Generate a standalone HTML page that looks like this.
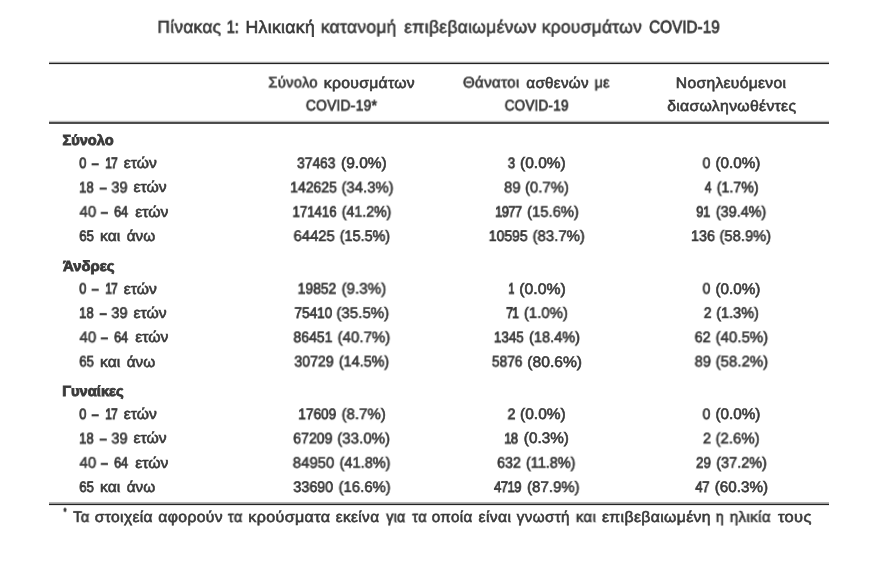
<!DOCTYPE html>
<html lang="el">
<head>
<meta charset="utf-8">
<title>Πίνακας 1: Ηλικιακή κατανομή επιβεβαιωμένων κρουσμάτων COVID-19</title>
<style>
html,body{margin:0;padding:0;background:#fff;}
body{width:880px;height:565px;position:relative;overflow:hidden;
  font-family:"Liberation Sans",sans-serif;font-size:15.2px;line-height:20px;color:#3a3a3a;
  text-rendering:geometricPrecision;}
.t{display:inline-block;white-space:pre;transform-origin:0 0;-webkit-text-stroke:0.62px #3a3a3a;will-change:transform;}
figure{margin:0;position:absolute;left:50px;top:0;width:779px;}
figcaption{height:62px;padding:12px 0 0 10px;box-sizing:border-box;text-align:center;font-size:17.5px;line-height:30px;white-space:nowrap;letter-spacing:.3px;}
table{border-collapse:collapse;border-spacing:0;width:779px;table-layout:fixed;}
th,td{padding:0;font-weight:400;text-align:center;vertical-align:top;white-space:nowrap;}
col.c0{width:194px} col.c1,col.c2,col.c3{width:195px}
thead th{height:69px;padding-top:9px;box-sizing:border-box;line-height:24px;letter-spacing:.3px;}
tbody th{text-align:left;padding-left:29px;}
tbody tr.sec th{font-weight:700;padding-left:12px;font-size:14.5px;}
tbody tr.sec .t{-webkit-text-stroke-width:0.85px;}
.rule{position:absolute;left:-1px;width:780px;height:1px;background:#222;}
.note{margin:0;padding:6px 0 0 13px;white-space:nowrap;letter-spacing:.35px;word-spacing:1.9px;}
.note sup{font-size:9.5px;line-height:0;vertical-align:10px;}
</style>
</head>
<body>
<figure>
<figcaption><span class="t" id="tt0" style="transform:translate(-1.64px,-0.20px) scaleX(0.9897)">Πίνακας</span> <span class="t" id="tt1" style="-webkit-text-stroke-width:0.83px;letter-spacing:-0.13px;transform:translate(-2.34px,-0.20px) scaleX(0.8497)">1:</span> <span class="t" id="tt2" style="transform:translate(-3.46px,-0.20px) scaleX(1.0090)">Ηλικιακή</span> <span class="t" id="tt3" style="transform:translate(-2.20px,-0.20px) scaleX(0.9960)">κατανομή</span> <span class="t" id="tt4" style="transform:translate(0.25px,-0.20px) scaleX(0.9989)">επιβεβαιωμένων</span> <span class="t" id="tt5" style="transform:translate(-0.30px,-0.20px) scaleX(0.9940)">κρουσμάτων</span> <span class="t" id="tt6" style="-webkit-text-stroke-width:0.83px;letter-spacing:0.07px;transform:translate(1.10px,-0.20px) scaleX(0.8685)">COVID-19</span></figcaption>
<div class="rule" style="top:61px;opacity:.1"></div>
<div class="rule" style="top:62px;opacity:.42"></div>
<div class="rule" style="top:63px;opacity:1"></div>
<div class="rule" style="top:64px;opacity:.1"></div>
<div class="rule" style="top:120px;opacity:.07"></div>
<div class="rule" style="top:121px;opacity:.3"></div>
<div class="rule" style="top:122px;opacity:.82"></div>
<div class="rule" style="top:123px;opacity:.8"></div>
<div class="rule" style="top:502px;opacity:.32"></div>
<div class="rule" style="top:503px;opacity:.45"></div>
<div class="rule" style="top:504px;opacity:1"></div>
<div class="rule" style="top:505px;opacity:.1"></div>
<table>
<colgroup><col class="c0"><col class="c1"><col class="c2"><col class="c3"></colgroup>
<thead>
<tr><th></th>
<th scope="col"><div><span class="t" id="h1a0" style="transform:translate(-1.67px,0.50px) scaleX(0.9700)">Σύνολο</span> <span class="t" id="h1a1" style="transform:translate(-1.27px,0.50px) scaleX(1.0363)">κρουσμάτων</span></div><div><span class="t" id="h1b0" style="-webkit-text-stroke-width:0.77px;transform:translate(3.83px,-0.50px) scaleX(0.9064)">COVID-19*</span></div></th>
<th scope="col"><div><span class="t" id="h2a0" style="transform:translate(-1.10px,0.50px) scaleX(0.9982)">Θάνατοι</span> <span class="t" id="h2a1" style="transform:translate(0.35px,0.50px) scaleX(1.0008)">ασθενών</span> <span class="t" id="h2a2" style="-webkit-text-stroke-width:0.67px;transform:translate(1.51px,0.50px) scaleX(0.9503)">με</span></div><div><span class="t" id="h2b0" style="-webkit-text-stroke-width:0.80px;transform:translate(4.68px,-0.50px) scaleX(0.8835)">COVID-19</span></div></th>
<th scope="col"><div><span class="t" id="h3a0" style="transform:translate(-2.13px,0.50px) scaleX(1.0292)">Νοσηλευόμενοι</span></div><div><span class="t" id="h3b0" style="transform:translate(-1.85px,-0.50px) scaleX(1.0384)">διασωληνωθέντες</span></div></th>
</tr>
</thead>
<tbody>
<tr class="sec" style="height:23px"><th scope="rowgroup" colspan="4"><span class="t" id="s00" style="transform:translate(0.45px,0.00px) scaleX(1.0069)">Σύνολο</span></th></tr>
<tr style="height:24px"><th scope="row"><span class="t" id="l000" style="-webkit-text-stroke-width:0.89px;transform:translate(0.29px,0.10px) scaleX(0.8391)">0</span> <span class="t" id="l001" style="-webkit-text-stroke-width:0.98px;transform:translate(-0.04px,0.10px) scaleX(0.7510)">–</span> <span class="t" id="l002" style="-webkit-text-stroke-width:0.92px;letter-spacing:-1.30px;transform:translate(1.22px,0.10px) scaleX(0.7966)">17</span> <span class="t" id="l003" style="transform:translate(0.83px,0.10px) scaleX(1.0317)">ετών</span></th><td><span class="t" id="c0000" style="-webkit-text-stroke-width:0.76px;transform:translate(1.08px,0.10px) scaleX(0.9078)">37463</span> <span class="t" id="c0001" style="transform:translate(-0.96px,0.10px) scaleX(1.0220)">(9.0%)</span></td><td><span class="t" id="c0010" style="-webkit-text-stroke-width:0.82px;transform:translate(-0.18px,0.10px) scaleX(0.8592)">3</span> <span class="t" id="c0011" style="transform:translate(0.04px,0.10px) scaleX(1.0209)">(0.0%)</span></td><td><span class="t" id="c0020" style="-webkit-text-stroke-width:0.69px;transform:translate(-0.47px,0.10px) scaleX(0.9317)">0</span> <span class="t" id="c0021" style="transform:translate(0.45px,0.10px) scaleX(1.0058)">(0.0%)</span></td></tr>
<tr style="height:25px"><th scope="row"><span class="t" id="l010" style="-webkit-text-stroke-width:0.80px;transform:translate(0.05px,0.40px) scaleX(0.8638)">18</span> <span class="t" id="l011" style="-webkit-text-stroke-width:0.98px;transform:translate(-0.01px,0.40px) scaleX(0.7510)">–</span> <span class="t" id="l012" style="-webkit-text-stroke-width:0.67px;transform:translate(-1.63px,0.40px) scaleX(0.9541)">39</span> <span class="t" id="l013" style="transform:translate(-0.56px,0.40px) scaleX(1.0350)">ετών</span></th><td><span class="t" id="c0100" style="-webkit-text-stroke-width:0.74px;transform:translate(3.17px,0.40px) scaleX(0.9212)">142625</span> <span class="t" id="c0101" style="transform:translate(-0.54px,0.40px) scaleX(0.9817)">(34.3%)</span></td><td><span class="t" id="c0110" style="transform:translate(-0.03px,0.40px) scaleX(0.9784)">89</span> <span class="t" id="c0111" style="transform:translate(-0.03px,0.40px) scaleX(0.9804)">(0.7%)</span></td><td><span class="t" id="c0120" style="-webkit-text-stroke-width:0.86px;transform:translate(1.63px,0.40px) scaleX(0.8203)">4</span> <span class="t" id="c0121" style="-webkit-text-stroke-width:0.73px;transform:translate(1.72px,0.40px) scaleX(0.9342)">(1.7%)</span></td></tr>
<tr style="height:24px"><th scope="row"><span class="t" id="l020" style="transform:translate(0.50px,-0.30px) scaleX(0.9880)">40</span> <span class="t" id="l021" style="-webkit-text-stroke-width:0.98px;transform:translate(1.20px,-0.30px) scaleX(0.7510)">–</span> <span class="t" id="l022" style="-webkit-text-stroke-width:0.83px;letter-spacing:-0.33px;transform:translate(1.00px,-0.30px) scaleX(0.8515)">64</span> <span class="t" id="l023" style="transform:translate(2.14px,-0.30px) scaleX(1.0350)">ετών</span></th><td><span class="t" id="c0200" style="-webkit-text-stroke-width:0.82px;transform:translate(5.49px,-0.30px) scaleX(0.8708)">171416</span> <span class="t" id="c0201" style="-webkit-text-stroke-width:0.72px;transform:translate(-0.28px,-0.30px) scaleX(0.9343)">(41.2%)</span></td><td><span class="t" id="c0210" style="-webkit-text-stroke-width:0.83px;letter-spacing:-0.80px;transform:translate(3.06px,-0.30px) scaleX(0.8589)">1977</span> <span class="t" id="c0211" style="transform:translate(0.07px,-0.30px) scaleX(0.9759)">(15.6%)</span></td><td><span class="t" id="c0220" style="-webkit-text-stroke-width:0.83px;letter-spacing:-0.48px;transform:translate(1.18px,-0.30px) scaleX(0.8543)">91</span> <span class="t" id="c0221" style="-webkit-text-stroke-width:0.70px;transform:translate(0.82px,-0.30px) scaleX(0.9498)">(39.4%)</span></td></tr>
<tr style="height:29px"><th scope="row"><span class="t" id="l030" style="-webkit-text-stroke-width:0.82px;transform:translate(0.26px,0.00px) scaleX(0.8658)">65</span> <span class="t" id="l031" style="transform:translate(0.03px,0.00px) scaleX(1.0265)">και</span> <span class="t" id="l032" style="transform:translate(2.64px,0.00px) scaleX(1.0091)">άνω</span></th><td><span class="t" id="c0300" style="transform:translate(1.52px,0.00px) scaleX(0.9771)">64425</span> <span class="t" id="c0301" style="-webkit-text-stroke-width:0.69px;transform:translate(1.73px,0.00px) scaleX(0.9488)">(15.5%)</span></td><td><span class="t" id="c0310" style="-webkit-text-stroke-width:0.74px;transform:translate(1.73px,0.00px) scaleX(0.9213)">10595</span> <span class="t" id="c0311" style="transform:translate(-0.44px,0.00px) scaleX(0.9846)">(83.7%)</span></td><td><span class="t" id="c0320" style="-webkit-text-stroke-width:0.71px;transform:translate(0.99px,0.00px) scaleX(0.9423)">136</span> <span class="t" id="c0321" style="transform:translate(-0.52px,0.00px) scaleX(0.9720)">(58.9%)</span></td></tr>
</tbody>
<tbody>
<tr class="sec" style="height:24px"><th scope="rowgroup" colspan="4"><span class="t" id="s10" style="transform:translate(0.96px,0.50px) scaleX(1.0269)">Άνδρες</span></th></tr>
<tr style="height:24px"><th scope="row"><span class="t" id="l100" style="-webkit-text-stroke-width:0.89px;transform:translate(0.29px,-0.40px) scaleX(0.8391)">0</span> <span class="t" id="l101" style="-webkit-text-stroke-width:0.98px;transform:translate(-0.04px,-0.40px) scaleX(0.7510)">–</span> <span class="t" id="l102" style="-webkit-text-stroke-width:0.92px;letter-spacing:-1.30px;transform:translate(1.22px,-0.40px) scaleX(0.7966)">17</span> <span class="t" id="l103" style="transform:translate(0.83px,-0.40px) scaleX(1.0317)">ετών</span></th><td><span class="t" id="c1000" style="-webkit-text-stroke-width:0.75px;transform:translate(1.62px,-0.40px) scaleX(0.9147)">19852</span> <span class="t" id="c1001" style="transform:translate(-0.45px,-0.40px) scaleX(0.9966)">(9.3%)</span></td><td><span class="t" id="c1010" style="-webkit-text-stroke-width:0.98px;transform:translate(0.53px,-0.40px) scaleX(0.7015)">1</span> <span class="t" id="c1011" style="transform:translate(-0.81px,-0.40px) scaleX(1.0405)">(0.0%)</span></td><td><span class="t" id="c1020" style="-webkit-text-stroke-width:0.69px;transform:translate(-0.47px,-0.40px) scaleX(0.9317)">0</span> <span class="t" id="c1021" style="transform:translate(0.45px,-0.40px) scaleX(1.0058)">(0.0%)</span></td></tr>
<tr style="height:24px"><th scope="row"><span class="t" id="l110" style="-webkit-text-stroke-width:0.80px;transform:translate(0.05px,-0.10px) scaleX(0.8638)">18</span> <span class="t" id="l111" style="-webkit-text-stroke-width:0.98px;transform:translate(-0.01px,-0.10px) scaleX(0.7510)">–</span> <span class="t" id="l112" style="-webkit-text-stroke-width:0.67px;transform:translate(-1.63px,-0.10px) scaleX(0.9541)">39</span> <span class="t" id="l113" style="transform:translate(-0.56px,-0.10px) scaleX(1.0350)">ετών</span></th><td><span class="t" id="c1100" style="-webkit-text-stroke-width:0.79px;transform:translate(2.39px,-0.10px) scaleX(0.8964)">75410</span> <span class="t" id="c1101" style="transform:translate(-1.65px,-0.10px) scaleX(0.9952)">(35.5%)</span></td><td><span class="t" id="c1110" style="-webkit-text-stroke-width:0.90px;letter-spacing:-1.30px;transform:translate(1.17px,-0.10px) scaleX(0.8131)">71</span> <span class="t" id="c1111" style="transform:translate(0.87px,-0.10px) scaleX(0.9827)">(1.0%)</span></td><td><span class="t" id="c1120" style="-webkit-text-stroke-width:0.72px;transform:translate(0.76px,-0.10px) scaleX(0.9207)">2</span> <span class="t" id="c1121" style="-webkit-text-stroke-width:0.70px;transform:translate(1.21px,-0.10px) scaleX(0.9515)">(1.3%)</span></td></tr>
<tr style="height:24px"><th scope="row"><span class="t" id="l120" style="transform:translate(0.50px,0.20px) scaleX(0.9880)">40</span> <span class="t" id="l121" style="-webkit-text-stroke-width:0.98px;transform:translate(1.20px,0.20px) scaleX(0.7510)">–</span> <span class="t" id="l122" style="-webkit-text-stroke-width:0.83px;letter-spacing:-0.33px;transform:translate(1.00px,0.20px) scaleX(0.8515)">64</span> <span class="t" id="l123" style="transform:translate(2.14px,0.20px) scaleX(1.0350)">ετών</span></th><td><span class="t" id="c1200" style="-webkit-text-stroke-width:0.73px;transform:translate(1.41px,0.20px) scaleX(0.9249)">86451</span> <span class="t" id="c1201" style="transform:translate(-0.45px,0.20px) scaleX(0.9933)">(40.7%)</span></td><td><span class="t" id="c1210" style="-webkit-text-stroke-width:0.79px;transform:translate(2.85px,0.20px) scaleX(0.8856)">1345</span> <span class="t" id="c1211" style="-webkit-text-stroke-width:0.68px;transform:translate(0.03px,0.20px) scaleX(0.9595)">(18.4%)</span></td><td><span class="t" id="c1220" style="-webkit-text-stroke-width:0.70px;transform:translate(0.61px,0.20px) scaleX(0.9439)">62</span> <span class="t" id="c1221" style="transform:translate(0.55px,0.20px) scaleX(0.9913)">(40.5%)</span></td></tr>
<tr style="height:30px"><th scope="row"><span class="t" id="l130" style="-webkit-text-stroke-width:0.82px;transform:translate(0.26px,0.50px) scaleX(0.8658)">65</span> <span class="t" id="l131" style="transform:translate(0.03px,0.50px) scaleX(1.0265)">και</span> <span class="t" id="l132" style="transform:translate(2.64px,0.50px) scaleX(1.0091)">άνω</span></th><td><span class="t" id="c1300" style="-webkit-text-stroke-width:0.73px;transform:translate(2.29px,0.50px) scaleX(0.9325)">30729</span> <span class="t" id="c1301" style="-webkit-text-stroke-width:0.70px;transform:translate(0.83px,0.50px) scaleX(0.9479)">(14.5%)</span></td><td><span class="t" id="c1310" style="-webkit-text-stroke-width:0.75px;transform:translate(0.88px,0.50px) scaleX(0.9054)">5876</span> <span class="t" id="c1311" style="transform:translate(-1.67px,0.50px) scaleX(1.0281)">(80.6%)</span></td><td><span class="t" id="c1320" style="transform:translate(0.60px,0.50px) scaleX(0.9692)">89</span> <span class="t" id="c1321" style="transform:translate(0.55px,0.50px) scaleX(0.9913)">(58.2%)</span></td></tr>
</tbody>
<tbody>
<tr class="sec" style="height:23px"><th scope="rowgroup" colspan="4"><span class="t" id="s20" style="transform:translate(0.19px,0.00px) scaleX(1.0142)">Γυναίκες</span></th></tr>
<tr style="height:24px"><th scope="row"><span class="t" id="l200" style="-webkit-text-stroke-width:0.89px;transform:translate(0.29px,0.10px) scaleX(0.8391)">0</span> <span class="t" id="l201" style="-webkit-text-stroke-width:0.98px;transform:translate(-0.04px,0.10px) scaleX(0.7510)">–</span> <span class="t" id="l202" style="-webkit-text-stroke-width:0.92px;letter-spacing:-1.30px;transform:translate(1.22px,0.10px) scaleX(0.7966)">17</span> <span class="t" id="l203" style="transform:translate(0.83px,0.10px) scaleX(1.0317)">ετών</span></th><td><span class="t" id="c2000" style="-webkit-text-stroke-width:0.77px;transform:translate(2.24px,0.10px) scaleX(0.9000)">17609</span> <span class="t" id="c2001" style="transform:translate(-0.45px,0.10px) scaleX(0.9873)">(8.7%)</span></td><td><span class="t" id="c2010" style="-webkit-text-stroke-width:0.77px;transform:translate(-0.44px,0.10px) scaleX(0.9207)">2</span> <span class="t" id="c2011" style="transform:translate(0.04px,0.10px) scaleX(1.0209)">(0.0%)</span></td><td><span class="t" id="c2020" style="-webkit-text-stroke-width:0.69px;transform:translate(-0.47px,0.10px) scaleX(0.9317)">0</span> <span class="t" id="c2021" style="transform:translate(0.45px,0.10px) scaleX(1.0058)">(0.0%)</span></td></tr>
<tr style="height:25px"><th scope="row"><span class="t" id="l210" style="-webkit-text-stroke-width:0.80px;transform:translate(0.05px,0.40px) scaleX(0.8638)">18</span> <span class="t" id="l211" style="-webkit-text-stroke-width:0.98px;transform:translate(-0.01px,0.40px) scaleX(0.7510)">–</span> <span class="t" id="l212" style="-webkit-text-stroke-width:0.67px;transform:translate(-1.63px,0.40px) scaleX(0.9541)">39</span> <span class="t" id="l213" style="transform:translate(-0.56px,0.40px) scaleX(1.0350)">ετών</span></th><td><span class="t" id="c2100" style="-webkit-text-stroke-width:0.72px;transform:translate(1.16px,0.40px) scaleX(0.9310)">67209</span> <span class="t" id="c2101" style="transform:translate(-0.80px,0.40px) scaleX(0.9961)">(33.0%)</span></td><td><span class="t" id="c2110" style="-webkit-text-stroke-width:0.83px;letter-spacing:-0.81px;transform:translate(0.21px,0.40px) scaleX(0.8537)">18</span> <span class="t" id="c2111" style="transform:translate(-0.16px,0.40px) scaleX(1.0058)">(0.3%)</span></td><td><span class="t" id="c2120" style="transform:translate(-0.08px,0.40px) scaleX(0.9628)">2</span> <span class="t" id="c2121" style="transform:translate(0.55px,0.40px) scaleX(0.9827)">(2.6%)</span></td></tr>
<tr style="height:24px"><th scope="row"><span class="t" id="l220" style="transform:translate(0.50px,-0.30px) scaleX(0.9880)">40</span> <span class="t" id="l221" style="-webkit-text-stroke-width:0.98px;transform:translate(1.20px,-0.30px) scaleX(0.7510)">–</span> <span class="t" id="l222" style="-webkit-text-stroke-width:0.83px;letter-spacing:-0.33px;transform:translate(1.00px,-0.30px) scaleX(0.8515)">64</span> <span class="t" id="l223" style="transform:translate(2.14px,-0.30px) scaleX(1.0350)">ετών</span></th><td><span class="t" id="c2200" style="transform:translate(0.71px,-0.30px) scaleX(0.9856)">84950</span> <span class="t" id="c2201" style="-webkit-text-stroke-width:0.68px;transform:translate(1.52px,-0.30px) scaleX(0.9595)">(41.8%)</span></td><td><span class="t" id="c2210" style="-webkit-text-stroke-width:0.72px;transform:translate(1.10px,-0.30px) scaleX(0.9322)">632</span> <span class="t" id="c2211" style="-webkit-text-stroke-width:0.69px;transform:translate(0.92px,-0.30px) scaleX(0.9508)">(11.8%)</span></td><td><span class="t" id="c2220" style="-webkit-text-stroke-width:0.76px;transform:translate(1.96px,-0.30px) scaleX(0.8849)">29</span> <span class="t" id="c2221" style="-webkit-text-stroke-width:0.69px;transform:translate(1.21px,-0.30px) scaleX(0.9537)">(37.2%)</span></td></tr>
<tr style="height:24px"><th scope="row"><span class="t" id="l230" style="-webkit-text-stroke-width:0.82px;transform:translate(0.26px,0.00px) scaleX(0.8658)">65</span> <span class="t" id="l231" style="transform:translate(0.03px,0.00px) scaleX(1.0265)">και</span> <span class="t" id="l232" style="transform:translate(2.64px,0.00px) scaleX(1.0091)">άνω</span></th><td><span class="t" id="c2300" style="-webkit-text-stroke-width:0.70px;transform:translate(1.38px,0.00px) scaleX(0.9414)">33690</span> <span class="t" id="c2301" style="transform:translate(0.56px,0.00px) scaleX(0.9817)">(16.6%)</span></td><td><span class="t" id="c2310" style="-webkit-text-stroke-width:0.83px;letter-spacing:-0.66px;transform:translate(1.96px,0.00px) scaleX(0.8667)">4719</span> <span class="t" id="c2311" style="transform:translate(-0.94px,0.00px) scaleX(0.9894)">(87.9%)</span></td><td><span class="t" id="c2320" style="-webkit-text-stroke-width:0.83px;letter-spacing:-0.41px;transform:translate(0.25px,0.00px) scaleX(0.8704)">47</span> <span class="t" id="c2321" style="transform:translate(-0.25px,0.00px) scaleX(1.0019)">(60.3%)</span></td></tr>
</tbody>
</table>
<p class="note"><sup><span class="t" id="fs0" style="-webkit-text-stroke-width:0.96px;transform:translate(0.57px,2.60px) scaleX(0.7447)">*</span></sup> <span class="t" id="fn0" style="-webkit-text-stroke-width:0.67px;transform:translate(-0.88px,-0.10px) scaleX(0.9613)">Τα</span> <span class="t" id="fn1" style="transform:translate(-2.25px,-0.10px) scaleX(1.0268)">στοιχεία</span> <span class="t" id="fn2" style="transform:translate(-1.65px,-0.10px) scaleX(1.0350)">αφορούν</span> <span class="t" id="fn3" style="-webkit-text-stroke-width:0.70px;transform:translate(-1.12px,-0.10px) scaleX(0.9599)">τα</span> <span class="t" id="fn4" style="transform:translate(-2.69px,-0.10px) scaleX(1.0575)">κρούσματα</span> <span class="t" id="fn5" style="transform:translate(0.85px,-0.10px) scaleX(1.0131)">εκείνα</span> <span class="t" id="fn6" style="-webkit-text-stroke-width:0.77px;transform:translate(1.36px,-0.10px) scaleX(0.9109)">για</span> <span class="t" id="fn7" style="-webkit-text-stroke-width:0.70px;transform:translate(0.20px,-0.10px) scaleX(0.9599)">τα</span> <span class="t" id="fn8" style="transform:translate(-2.25px,-0.10px) scaleX(1.0013)">οποία</span> <span class="t" id="fn9" style="transform:translate(-2.46px,-0.10px) scaleX(1.0353)">είναι</span> <span class="t" id="fn10" style="transform:translate(-2.15px,-0.10px) scaleX(1.0010)">γνωστή</span> <span class="t" id="fn11" style="transform:translate(-3.13px,-0.10px) scaleX(0.9796)">και</span> <span class="t" id="fn12" style="transform:translate(-4.07px,-0.10px) scaleX(1.0390)">επιβεβαιωμένη</span> <span class="t" id="fn13" style="-webkit-text-stroke-width:0.72px;transform:translate(-1.13px,-0.10px) scaleX(0.9185)">η</span> <span class="t" id="fn14" style="transform:translate(-2.30px,-0.10px) scaleX(0.9963)">ηλικία</span> <span class="t" id="fn15" style="transform:translate(-2.08px,-0.10px) scaleX(1.0830)">τους</span></p>
</figure>
</body>
</html>
